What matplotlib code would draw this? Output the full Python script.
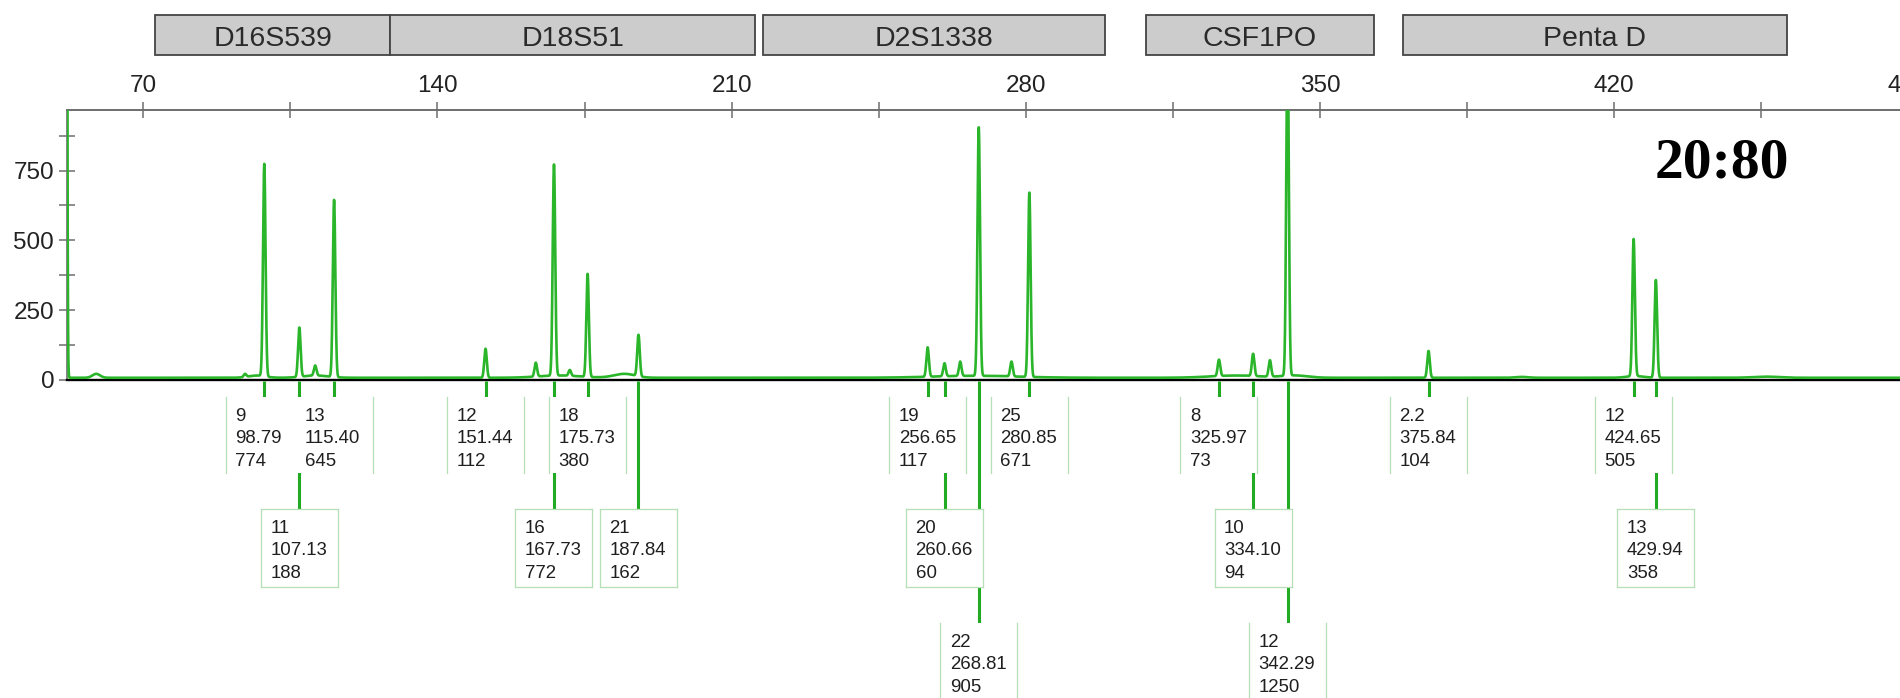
import matplotlib.pyplot as plt
import numpy as np
from matplotlib.patches import Rectangle

# called alleles: label, size (bp), height (RFU), row of the label box
allele = ['9', '11', '13', '12', '16', '18', '21', '19', '20', '22', '25',
          '8', '10', '12', '2.2', '12', '13']
size_bp = [98.79, 107.13, 115.40, 151.44, 167.73, 175.73, 187.84, 256.65, 260.66,
           268.81, 280.85, 325.97, 334.10, 342.29, 375.84, 424.65, 429.94]
height_rfu = [774, 188, 645, 112, 772, 380, 162, 117, 60, 905, 671,
              73, 94, 1250, 104, 505, 358]
row = [0, 1, 0, 0, 1, 0, 1, 0, 1, 2, 0, 0, 1, 2, 0, 0, 1]

# uncalled stutter / artefact peaks
extra_bp = [94.2, 110.9, 163.4, 171.5, 264.4, 276.6, 338.1]
extra_rfu = [22, 52, 62, 36, 66, 66, 71]

# broad humps on the baseline: centre, rise, width
hump_bp = [58.8, 97.0, 111.0, 169.0, 184.5, 268.0, 330.0, 344.0, 398.0, 425.0, 456.0]
hump_rfu = [14, 8, 8, 8, 14, 7, 8, 8, 3, 6, 4]
hump_w = [0.9, 2.0, 3.0, 5.0, 2.5, 10.0, 6.0, 3.0, 1.5, 2.0, 3.0]
baseline = 8

# marker panel bins
loci = ['D16S539', 'D18S51', 'D2S1338', 'CSF1PO', 'Penta D']
locus_start = [72.9, 128.8, 217.5, 308.6, 369.8]
locus_end = [128.8, 215.6, 298.9, 362.8, 461.1]

green = '#22aa22'
xlim = (51.77, 495.0)

# build the trace
bp = np.arange(50.0, 495.0, 0.01)
bg = np.full_like(bp, float(baseline))
for c, h, w in zip(hump_bp, hump_rfu, hump_w):
    bg += h * np.exp(-0.5 * ((bp - c) / w) ** 2)
rfu = bg.copy()
for c, h in zip(size_bp + extra_bp, height_rfu + extra_rfu):
    b = np.interp(c, bp, bg)
    rfu += (h - b) * np.exp(-0.5 * ((bp - c) / 0.3) ** 2)
# primer front running off the left edge
rfu += 30000 * np.exp(-0.5 * ((bp - 51.3) / 0.25) ** 2)

fig = plt.figure(figsize=(19, 6.98), dpi=100)
ax = fig.add_axes([0.0351, 0.4556, 0.9803, 0.3868])
ax.plot(bp, rfu, color='#2bb52b', lw=1.9, zorder=3)

ax.spines['right'].set_visible(False)
ax.spines['top'].set_color('#6e6e6e')
ax.spines['top'].set_linewidth(1.4)
ax.spines['left'].set_color('#6e6e6e')
ax.spines['left'].set_linewidth(1.2)
ax.spines['bottom'].set_color('black')
ax.spines['bottom'].set_linewidth(1.7)

ax.set_xticks(np.arange(70, 500, 70))
ax.set_xticks(np.arange(105, 500, 70), minor=True)
ax.set_yticks([0, 250, 500, 750])
ax.set_yticks([125, 375, 625, 875], minor=True)
ax.set_xlim(*xlim)
ax.set_ylim(0, 967)
ax.tick_params(axis='x', which='both', direction='inout', length=11, width=1.1,
               color='#6e6e6e', top=True, bottom=False, labeltop=True,
               labelbottom=False, labelsize=17.5, pad=4, labelcolor='#222222')
ax.tick_params(axis='y', which='both', direction='inout', length=12, width=1.1,
               color='#6e6e6e', labelsize=17.5, pad=3, labelcolor='#222222')
for t in ax.get_xticklabels() + ax.get_yticklabels():
    t.set_family('Liberation Sans')

# overlay for the bins and allele labels, x in bp, y in pixels from the top
lab = fig.add_axes([0.0351, 0, 0.9803, 1], facecolor='none')
lab.set_xlim(*xlim)
lab.set_ylim(698, 0)
lab.axis('off')

for name, s, e in zip(loci, locus_start, locus_end):
    lab.add_patch(Rectangle((s, 15), e - s, 40, facecolor='#cccccc',
                            edgecolor='#444444', lw=1.3, clip_on=False))
    lab.text((s + e) / 2, 46.5, name, ha='center', va='baseline', fontsize=20.5,
             family='Liberation Sans', color='#2a2a2a', clip_on=False)

row_top = [397, 509, 623]
row_bot = [473, 587, 730]
line_off = [24, 46, 69]
half = 9.16
pad = 2.26
edge = '#b5dfb5'

for a, x, h, r in zip(allele, size_bp, height_rfu, row):
    top, bot = row_top[r], row_bot[r]
    lab.plot([x, x], [381, top], color=green, lw=2.2, solid_capstyle='butt',
             zorder=1, clip_on=False)
    lab.add_patch(Rectangle((x - half, top), 2 * half, bot - top,
                            facecolor='white', edgecolor='none', zorder=2,
                            clip_on=False))
    others = [xo for xo, ro in zip(size_bp, row) if ro == r and xo != x]
    for ex in (x - half, x + half):
        if any(abs(ex - xo) < half for xo in others):
            continue
        lab.plot([ex, ex], [top, bot], color=edge, lw=0.9, zorder=2.5, clip_on=False)
    if r == 1:
        lab.plot([x - half, x + half], [top, top], color=edge, lw=0.9, zorder=2.5)
        lab.plot([x - half, x + half], [bot, bot], color=edge, lw=0.9, zorder=2.5)
    for off, s in zip(line_off, [a, '%.2f' % x, str(h)]):
        lab.text(x - half + pad, top + off, s, ha='left', va='baseline',
                 fontsize=13.4, family='Liberation Sans', color='#1f1f1f',
                 zorder=3, clip_on=False)

fig.text(0.9065, 1 - 177 / 698, '20:80', ha='center', va='baseline',
         fontsize=41.5, fontweight='bold', family='Liberation Serif')

fig.savefig('out.png', dpi=100)
